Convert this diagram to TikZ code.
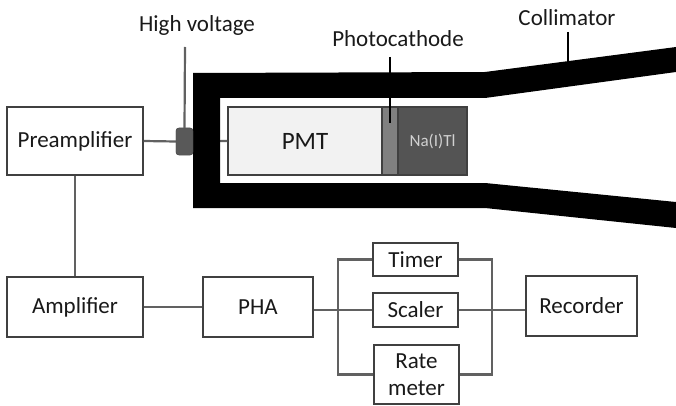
\documentclass[tikz,border=0pt]{standalone}
\usepackage{fontspec}
\setmainfont{Carlito}
\begin{document}
\begin{tikzpicture}[x=1pt,y=-1pt,
  box/.style={draw=black!75,line width=1.5pt,fill=white,inner sep=0pt,align=center,
    font=\fontsize{23}{24}\selectfont,text=black!90},
  wire/.style={draw=black!62,line width=2.2pt},
  lbl/.style={font=\fontsize{23}{24}\selectfont,text=black!90,inner sep=0pt},
  ptr/.style={draw=black,line width=2pt},
  conn/.style={draw=black!70,fill=black!65,rounded corners=3pt,minimum width=17pt,minimum height=27pt,inner sep=0pt}]
\useasboundingbox (0,0) rectangle (676,406);
\node[box,minimum width=136pt,minimum height=68pt] (pre) at (75,141) {Preamplifier};
\node[conn] (hv) at (184.5,141.5) {};
\node[box,fill=black!5,minimum width=154pt,minimum height=68pt,font=\fontsize{25}{26}\selectfont] (pmt) at (305,141) {PMT};
\node[draw=black!75,line width=1.2pt,fill=black!50,minimum width=16pt,minimum height=68pt,inner sep=0pt] (pc) at (390,141) {};
\node[draw=black!75,line width=1.2pt,fill=black!67,minimum width=69pt,minimum height=68pt,inner sep=0pt,text=black!18,font=\fontsize{17}{18}\selectfont] (nai) at (432.5,141) {Na(I)Tl};
\draw[wire] (pre.east) -- (hv.west);
\draw[wire] (hv.east) -- (pmt.west);
% collimator
\fill[black] (193,73) -- (485,72) -- (676,47) -- (676,72) -- (485,98) -- (220,98)
  -- (220,183) -- (485,183) -- (676,202) -- (676,228) -- (485,208) -- (193,208) -- cycle;
\node[conn] at (hv) {};
% labels and pointers
\node[lbl] (hvlab) at (197,25) {High voltage};
\node[lbl] (pclab) at (398,39) {Photocathode};
\node[lbl] (collab) at (567,18) {Collimator};
\coordinate (hvtop) at (185,47);
\coordinate (pctop) at (390,57);
\coordinate (pcbot) at (390,123);
\coordinate (coltop) at (568,32);
\coordinate (colbot) at (568,62);
\draw[wire] (hvtop) -- (hv.north);
\draw[ptr] (pctop) -- (pcbot);
\draw[ptr] (coltop) -- (colbot);
% electronics chain
\node[box,minimum width=136pt,minimum height=60pt] (amp) at (75,307) {Amplifier};
\node[box,minimum width=110pt,minimum height=60pt] (pha) at (258,307) {PHA};
\node[box,minimum width=85pt,minimum height=33pt] (timer) at (415.5,259.5) {Timer};
\node[box,minimum width=85pt,minimum height=34pt] (scaler) at (415.5,310) {Scaler};
\node[box,minimum width=85pt,minimum height=59pt,font=\fontsize{23}{27}\selectfont] (rate) at (416.5,374.5) {Rate\\meter};
\node[box,minimum width=111pt,minimum height=60pt] (rec) at (581.5,306) {Recorder};
\coordinate (jl) at (338,310);
\coordinate (jr) at (492,310);
\draw[wire] (pre.south) -- (amp.north);
\draw[wire] (amp.east) -- (amp.east -| pha.west);
\draw[wire] (pha.east |- jl) -- (scaler.west);
\draw[wire] (timer.west) -| (jl) |- (rate.west);
\draw[wire] (timer.east) -| (jr) |- (rate.east);
\draw[wire] (scaler.east) -- (scaler.east -| rec.west);
\end{tikzpicture}
\end{document}
